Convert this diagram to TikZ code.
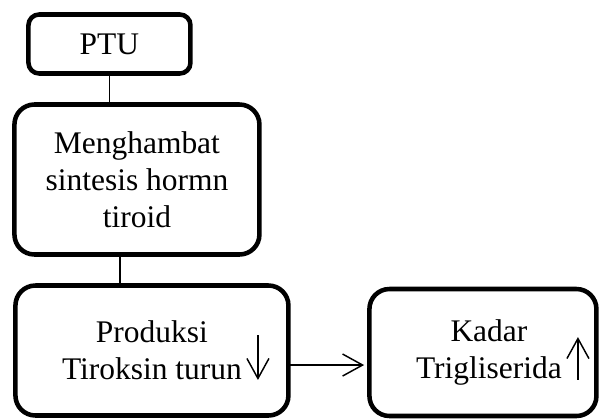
\documentclass[tikz,border=0pt]{standalone}
\usepackage{fontspec}
\setmainfont{Liberation Serif}
\usetikzlibrary{positioning,arrows.meta}

\begin{document}
\begin{tikzpicture}[
  box/.style={draw,line width=3.4pt,rounded corners=15pt,align=center,outer sep=0pt,inner sep=0pt,font=\fontsize{23.6pt}{27.6pt}\selectfont},
  link/.style={line width=1.1pt},
  arr/.style={line width=1.1pt,-{Straight Barb[length=15pt,width=16.5pt]}}]
\useasboundingbox (0,0) rectangle (449.25pt,-314.25pt);
\node[box,rounded corners=8pt,minimum width=121.5pt,minimum height=44.25pt] (ptu) at (82.1pt,-33pt) {PTU};
\node[box,minimum width=183.75pt,minimum height=112.5pt,below = 23.25pt of ptu,xshift=20.6pt] (hambat) {Menghambat\\sintesis hormn\\tiroid};
\node[box,minimum width=204.75pt,minimum height=97.5pt,below = 23.25pt of hambat,xshift=11.25pt] (prod) {Produksi\\Tiroksin turun};
\node[box,minimum width=170.25pt,minimum height=95.25pt,right = 60.75pt of prod,yshift=-1.5pt] (kadar) {\hspace*{9pt}Kadar\\\hspace*{9pt}Trigliserida};
\draw[link] (ptu.south) -- (ptu.south |- hambat.north);
\draw[link] ([xshift=-12.75pt]hambat.south) -- ([xshift=-12.75pt]hambat.south |- prod.north);
\draw[arr,shorten >=4pt] ([yshift=-10.9pt]prod.east) -- ([yshift=-10.9pt]prod.east -| kadar.west);
% naik / turun
\draw[arr] ([shift={(79.5pt,11.6pt)}]prod.center) -- ([shift={(79.5pt,-22.1pt)}]prod.center);
\draw[arr] ([shift={(71.25pt,-20.6pt)}]kadar.center) -- ([shift={(71.25pt,11.6pt)}]kadar.center);
\end{tikzpicture}
\end{document}
